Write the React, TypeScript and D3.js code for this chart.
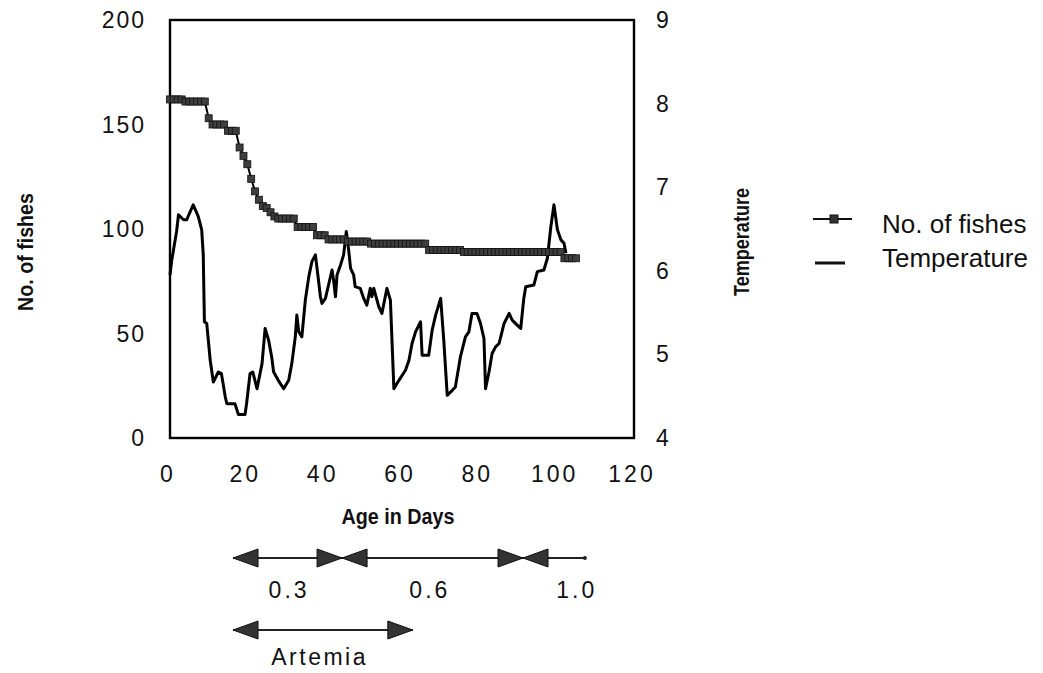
import React from "react";
import * as d3 from "d3";

// ---- data ----
const fishDays = d3.range(0, 106);
const fishCounts = [
  162, 162, 162, 162, 161, 161, 161, 161, 161, 161,
  153, 150, 150, 150, 150, 147, 147, 147, 139, 135,
  131, 124, 118, 114, 111, 110, 108, 106, 105, 105,
  105, 105, 105, 101, 101, 101, 101, 101, 97, 97,
  97, 95, 95, 95, 95, 95, 94, 94, 94, 94,
  94, 94, 93, 93, 93, 93, 93, 93, 93, 93,
  93, 93, 93, 93, 93, 93, 93, 90, 90, 90,
  90, 90, 90, 90, 90, 90, 89, 89, 89, 89,
  89, 89, 89, 89, 89, 89, 89, 89, 89, 89,
  89, 89, 89, 89, 89, 89, 89, 89, 89, 89,
  89, 89, 86, 86, 86, 86,
];

const tempDays = [
  0, 0.4, 1.7, 2.2, 3.5, 4.3, 6.0, 7.3, 8.2, 8.6, 8.9, 9.5, 10.4, 11.2, 12.5, 13.3,
  14.3, 14.7, 16.8, 17.7, 19.4, 19.8, 20.7, 21.4, 22.5, 23.8, 24.6, 25.5, 26.3, 26.8,
  28.0, 29.4, 30.7, 31.5, 32.4, 32.8, 33.3, 34.1, 35.0, 35.9, 36.7, 37.6, 38.4, 38.9,
  39.3, 40.2, 41.0, 41.9, 42.3, 42.8, 43.2, 44.1, 44.9, 45.6, 46.2, 46.7, 47.5, 47.9,
  49.2, 50.1, 50.9, 51.8, 52.2, 52.7, 54.0, 54.8, 56.1, 57.0, 57.9, 59.2, 60.9, 61.8,
  62.6, 63.5, 64.8, 65.2, 66.9, 67.8, 68.7, 70.0, 70.8, 71.7, 73.0, 73.8, 75.1, 76.4,
  77.3, 78.1, 79.4, 80.3, 81.2, 81.6, 82.5, 83.3, 84.2, 85.1, 86.4, 87.7, 88.5, 89.8,
  90.7, 91.5, 92.0, 94.1, 95.0, 96.7, 97.6, 98.5, 99.3, 100.2, 101.1, 101.9, 102.4,
];
const tempValues = [
  5.95, 6.11, 6.47, 6.67, 6.61, 6.61, 6.79, 6.65, 6.49, 6.19, 5.39, 5.37, 4.93, 4.67, 4.79, 4.77,
  4.49, 4.41, 4.41, 4.28, 4.28, 4.41, 4.77, 4.79, 4.59, 4.89, 5.31, 5.17, 4.97, 4.79,
  4.69, 4.59, 4.69, 4.89, 5.21, 5.47, 5.27, 5.21, 5.65, 5.93, 6.11, 6.19, 5.89, 5.69,
  5.61, 5.67, 5.83, 6.01, 5.89, 5.69, 5.95, 6.07, 6.19, 6.47, 6.25, 6.03, 5.95, 5.81,
  5.79, 5.67, 5.59, 5.79, 5.69, 5.79, 5.57, 5.49, 5.79, 5.65, 4.59, 4.69, 4.81, 4.93,
  5.13, 5.27, 5.39, 4.99, 4.99, 5.29, 5.47, 5.67, 5.17, 4.51, 4.57, 4.61, 4.97, 5.21,
  5.27, 5.49, 5.49, 5.37, 5.19, 4.59, 4.79, 5.01, 5.09, 5.13, 5.37, 5.49, 5.41, 5.35,
  5.31, 5.67, 5.81, 5.83, 5.99, 6.01, 6.15, 6.53, 6.79, 6.49, 6.37, 6.33, 6.21,
];

const xTicks = [0, 20, 40, 60, 80, 100, 120];
const fishTicks = [0, 50, 100, 150, 200];
const tempTicks = [4, 5, 6, 7, 8, 9];

const feedingBounds = [16.3, 44.5, 91.3, 107.3];
const feedingLabels = ["0.3", "0.6", "1.0"];
const feedingLabelDays = [30.8, 67.2, 105.2];
const artemiaBounds = [16.3, 62.8];
const artemiaLabel = "Artemia";
const artemiaLabelDay = 38.7;

const seriesNames = ["No. of fishes", "Temperature"];

// ---- layout ----
const W = 1043;
const H = 673;
const plot = { left: 170, right: 634, top: 20, bottom: 438 };

const x = d3.scaleLinear().domain([0, 120]).range([plot.left, plot.right]);
const yFish = d3.scaleLinear().domain([0, 200]).range([plot.bottom, plot.top]);
const yTemp = d3.scaleLinear().domain([4, 9]).range([plot.bottom, plot.top]);

const tickFont = "'Liberation Sans', Arial, sans-serif";

function head(tipX: number, y: number, dir: number, key: string) {
  const w = 25;
  const h = 9;
  const bx = tipX - dir * w;
  return (
    <polygon
      key={key}
      points={`${tipX},${y} ${bx},${y - h} ${bx},${y + h}`}
      fill="#333"
      stroke="#111"
      strokeWidth={1}
    />
  );
}

export default function App() {
  const fishPts: [number, number][] = fishDays.map((d, i) => [x(d), yFish(fishCounts[i])]);
  const tempPts: [number, number][] = tempDays.map((d, i) => [x(d), yTemp(tempValues[i])]);
  const line = d3.line();

  const row1 = 558;
  const row2 = 630;

  return (
    <svg
      width={W}
      height={H}
      style={{ position: "absolute", left: 0, top: 0, background: "#fff" }}
    >
      {/* plot frame */}
      <rect
        x={plot.left}
        y={plot.top}
        width={plot.right - plot.left}
        height={plot.bottom - plot.top}
        fill="none"
        stroke="#000"
        strokeWidth={2.4}
      />

      {/* left ticks */}
      {fishTicks.map((t) => (
        <text
          key={"f" + t}
          x={146}
          y={yFish(t) + 8}
          textAnchor="end"
          fontFamily={tickFont}
          fontSize={23}
          letterSpacing={2}
          fill="#111"
        >
          {t}
        </text>
      ))}
      {/* right ticks */}
      {tempTicks.map((t) => (
        <text
          key={"t" + t}
          x={656}
          y={yTemp(t) + 8}
          textAnchor="start"
          fontFamily={tickFont}
          fontSize={23}
          fill="#111"
        >
          {t}
        </text>
      ))}
      {/* bottom ticks */}
      {xTicks.map((t) => (
        <text
          key={"x" + t}
          x={x(t) - 2}
          y={482}
          textAnchor="middle"
          fontFamily={tickFont}
          fontSize={23}
          letterSpacing={3}
          fill="#111"
        >
          {t}
        </text>
      ))}

      {/* axis titles */}
      <text
        transform={`translate(33,252) rotate(-90)`}
        textAnchor="middle"
        fontFamily={tickFont}
        fontWeight="bold"
        fontSize={22}
        textLength={118}
        lengthAdjust="spacingAndGlyphs"
        fill="#111"
      >
        No. of fishes
      </text>
      <text
        transform={`translate(749,242) rotate(-90)`}
        textAnchor="middle"
        fontFamily={tickFont}
        fontWeight="bold"
        fontSize={22}
        textLength={108}
        lengthAdjust="spacingAndGlyphs"
        fill="#111"
      >
        Temperature
      </text>
      <text
        x={398}
        y={524}
        textAnchor="middle"
        fontFamily={tickFont}
        fontWeight="bold"
        fontSize={22}
        textLength={113}
        lengthAdjust="spacingAndGlyphs"
        fill="#111"
      >
        Age in Days
      </text>

      {/* temperature line */}
      <path
        d={line(tempPts) || ""}
        fill="none"
        stroke="#000"
        strokeWidth={3}
        strokeLinejoin="round"
      />

      {/* fish line with square markers */}
      <path d={line(fishPts) || ""} fill="none" stroke="#000" strokeWidth={2} />
      {fishPts.map((p, i) => (
        <rect
          key={"s" + i}
          x={p[0] - 3.5}
          y={p[1] - 3.5}
          width={7}
          height={7}
          fill="#3e3e3e"
          stroke="#111"
          strokeWidth={0.8}
        />
      ))}

      {/* legend */}
      <line x1={813} x2={852} y1={219} y2={219} stroke="#111" strokeWidth={2} />
      <rect x={830} y={215} width={8} height={8} fill="#333" stroke="#111" />
      <text x={882} y={233} fontFamily={tickFont} fontSize={26} fill="#111">
        {seriesNames[0]}
      </text>
      <line x1={815} x2={845} y1={263} y2={263} stroke="#111" strokeWidth={3} />
      <text x={882} y={267} fontFamily={tickFont} fontSize={26} fill="#111">
        {seriesNames[1]}
      </text>

      {/* feeding rate arrows */}
      <line
        x1={x(feedingBounds[0])}
        x2={x(feedingBounds[3])}
        y1={row1}
        y2={row1}
        stroke="#222"
        strokeWidth={2}
      />
      {head(x(feedingBounds[0]), row1, -1, "h1")}
      {head(x(feedingBounds[1]), row1, 1, "h2")}
      {head(x(feedingBounds[1]), row1, -1, "h3")}
      {head(x(feedingBounds[2]), row1, 1, "h4")}
      {head(x(feedingBounds[2]), row1, -1, "h5")}
      <circle cx={x(feedingBounds[3])} cy={row1} r={2} fill="#222" />
      {feedingLabels.map((l, i) => (
        <text
          key={"fl" + i}
          x={x(feedingLabelDays[i])}
          y={598}
          textAnchor="middle"
          fontFamily={tickFont}
          fontSize={23}
          letterSpacing={3}
          fill="#111"
        >
          {l}
        </text>
      ))}

      {/* artemia arrow */}
      <line
        x1={x(artemiaBounds[0])}
        x2={x(artemiaBounds[1])}
        y1={row2}
        y2={row2}
        stroke="#222"
        strokeWidth={2}
      />
      {head(x(artemiaBounds[0]), row2, -1, "a1")}
      {head(x(artemiaBounds[1]), row2, 1, "a2")}
      <text
        x={x(artemiaLabelDay)}
        y={665}
        textAnchor="middle"
        fontFamily={tickFont}
        fontSize={23}
        letterSpacing={2.5}
        fill="#111"
      >
        {artemiaLabel}
      </text>
    </svg>
  );
}
